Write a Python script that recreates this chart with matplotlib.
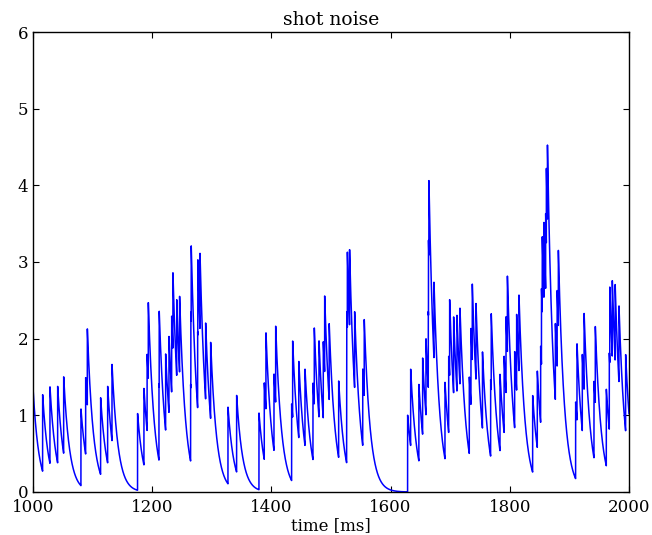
import numpy as np
import matplotlib
matplotlib.use("Agg")
import matplotlib.pyplot as plt

# Spike times [ms] (each spike adds a jump of 1)
spike_times = [
    1016.2, 1028.5, 1041.4, 1051.5, 1080.5, 1088.4, 1091.2, 1113.5, 1125.3, 1132.6,
    1175.5, 1186.2, 1191.5, 1193.5, 1211.4, 1211.8, 1222.6, 1228.2, 1232.7, 1234.8,
    1241.2, 1246.0, 1264.5, 1264.9, 1265.5, 1276.3, 1276.6, 1280.2, 1289.7, 1298.1,
    1327.2, 1341.7, 1379.2, 1388.1, 1390.9, 1404.4, 1407.2, 1434.0, 1435.7, 1446.0,
    1456.4, 1469.8, 1472.0, 1479.9, 1487.1, 1489.4, 1497.0, 1512.9, 1526.3, 1526.5,
    1527.5, 1531.2, 1539.7, 1553.3, 1555.8, 1628.6, 1633.7, 1647.5, 1653.8, 1659.4,
    1663.3, 1663.6, 1664.3, 1672.8, 1691.3, 1697.5, 1699.1, 1705.8, 1711.4, 1716.4,
    1732.1, 1734.9, 1737.1, 1743.3, 1754.2, 1767.9, 1768.9, 1783.6, 1790.5, 1793.7,
    1796.0, 1808.2, 1811.5, 1815.4, 1838.4, 1846.2, 1851.8, 1853.2, 1854.5, 1857.3,
    1860.2, 1861.4, 1863.2, 1876.5, 1879.5, 1881.5, 1910.5, 1912.8, 1921.7, 1924.7,
    1941.3, 1943.5, 1962.0, 1967.0, 1967.8, 1972.0, 1976.8, 1983.2, 1994.4,
]
jump = 1.0
tau = 10.0        # ms
v_start = 1.36    # value at t = 1000 ms
t_start, t_end = 1000.0, 2000.0

def main():
    t = np.arange(t_start, t_end + 0.05, 0.1)
    v = v_start * np.exp(-(t - t_start) / tau)
    for s in spike_times:
        m = t >= s
        v[m] += jump * np.exp(-(t[m] - s) / tau)

    plt.rcParams['font.family'] = ['DejaVu Serif']
    fig = plt.figure(figsize=(6.52, 5.35), dpi=100, facecolor='white')
    ax = fig.add_axes([33 / 652, 43 / 535, 596 / 652, 460 / 535])
    ax.plot(t, v, color='#0000ff', linewidth=1.1)

    ax.set_title("shot noise", fontsize=13.5, pad=5)
    ax.set_xlabel("time [ms]", fontsize=12, labelpad=1)
    ax.set_xlim(1000, 2000)
    ax.set_ylim(0, 6)
    ax.set_xticks(np.arange(1000, 2001, 200))
    ax.set_yticks(np.arange(0, 7, 1))
    ax.tick_params(direction='in', top=True, right=True, length=4, labelsize=12)
    ax.tick_params(axis='x', pad=5)
    for sp in ax.spines.values():
        sp.set_linewidth(1.0)

    fig.savefig("out.png", dpi=100, facecolor='white')

if __name__ == "__main__":
    main()
